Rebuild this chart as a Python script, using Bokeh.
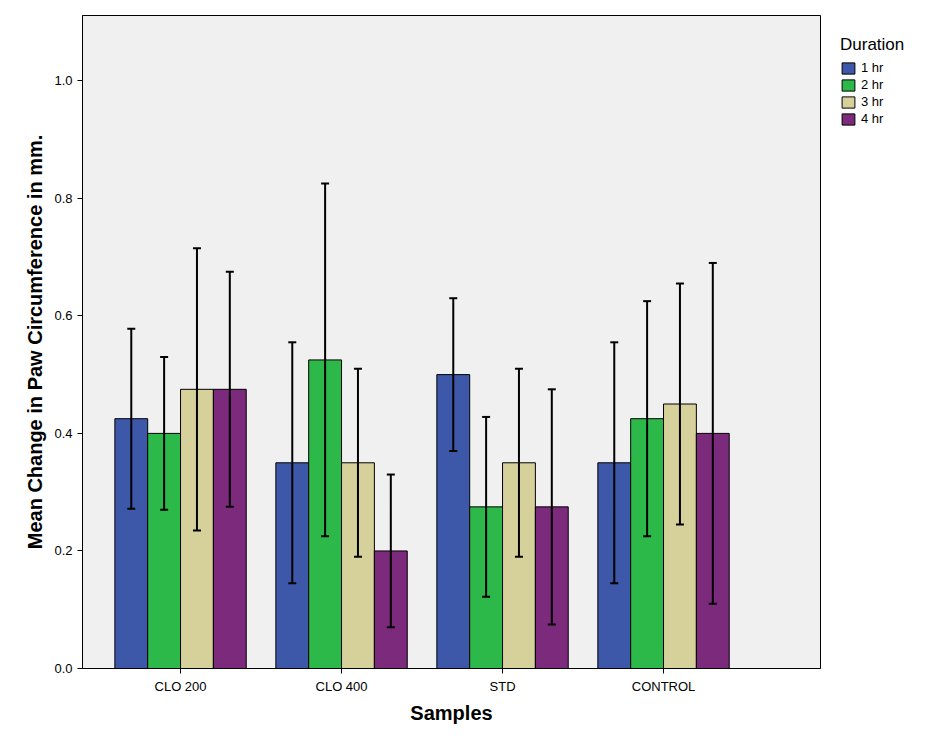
from bokeh.plotting import figure
from bokeh.models import ColumnDataSource, Whisker, TeeHead, Legend, LegendItem, NumeralTickFormatter, FixedTicker
from bokeh.embed import file_html
from bokeh.resources import INLINE

samples = ["CLO 200", "CLO 400", "STD", "CONTROL"]
durations = ["1 hr", "2 hr", "3 hr", "4 hr"]
colors = ["#3d57a9", "#2db94a", "#d6d09b", "#7c2a7c"]

mean_1hr = [0.425, 0.35, 0.50, 0.35]
mean_2hr = [0.40, 0.525, 0.275, 0.425]
mean_3hr = [0.475, 0.35, 0.35, 0.45]
mean_4hr = [0.475, 0.20, 0.275, 0.40]
err_1hr = [0.153, 0.205, 0.13, 0.205]
err_2hr = [0.13, 0.30, 0.153, 0.20]
err_3hr = [0.24, 0.16, 0.16, 0.205]
err_4hr = [0.20, 0.13, 0.20, 0.29]

means = [mean_1hr, mean_2hr, mean_3hr, mean_4hr]
errs = [err_1hr, err_2hr, err_3hr, err_4hr]
offsets = [-0.306, -0.102, 0.102, 0.306]
pos = list(range(len(samples)))

p = figure(x_range=(-0.609, 3.975), y_range=(0, 1.111), frame_width=738, frame_height=653,
           output_backend="svg", toolbar_location=None,
           min_border_left=82, min_border_right=10, min_border_top=15, min_border_bottom=58)
p.background_fill_color = "#f0f0f0"
p.outline_line_color = "black"
p.xgrid.visible = False
p.ygrid.visible = False

items = []
for d, m, e, c, off in zip(durations, means, errs, colors, offsets):
    src = ColumnDataSource(dict(x=[i + off for i in pos], top=m,
                                upper=[a + b for a, b in zip(m, e)],
                                lower=[a - b for a, b in zip(m, e)]))
    r = p.vbar(x="x", top="top", width=0.204, source=src,
               fill_color=c, line_color="black", line_width=1)
    items.append(LegendItem(label=d, renderers=[r]))
    w = Whisker(base="x", upper="upper", lower="lower", source=src,
                line_color="black", line_width=2, level="overlay",
                upper_head=TeeHead(size=8, line_color="black", line_width=2),
                lower_head=TeeHead(size=8, line_color="black", line_width=2))
    p.add_layout(w)

legend = Legend(items=items, title="Duration", location="top_left",
                label_text_font="Liberation Sans", label_text_font_size="13px",
                title_text_font="Liberation Sans", title_text_font_size="17px",
                title_text_font_style="normal", title_text_color="black", label_text_color="black",
                glyph_width=16, glyph_height=14, label_height=14, spacing=2,
                border_line_color=None, background_fill_alpha=0, margin=20, padding=6)
p.add_layout(legend, "right")

p.xaxis.ticker = FixedTicker(ticks=pos)
p.xaxis.major_label_overrides = {i: s for i, s in zip(pos, samples)}
p.xaxis.minor_tick_line_color = None
p.yaxis.ticker = FixedTicker(ticks=[0, 0.2, 0.4, 0.6, 0.8, 1.0])
p.yaxis.formatter = NumeralTickFormatter(format="0.0")
p.yaxis.minor_tick_line_color = None
p.axis.major_label_text_font = "Liberation Sans"
p.axis.major_label_text_font_size = "13px"
p.axis.major_label_text_color = "black"
p.axis.axis_label_text_font = "Liberation Sans"
p.axis.axis_label_text_font_size = "20px"
p.axis.axis_label_text_font_style = "bold"
p.axis.axis_label_text_color = "black"
p.yaxis.axis_label = "Mean Change in Paw Circumference in mm."
p.xaxis.axis_label = "Samples"
p.axis.major_tick_out = 5
p.axis.major_tick_in = 0

open("out.html", "w").write(file_html(p, INLINE))
